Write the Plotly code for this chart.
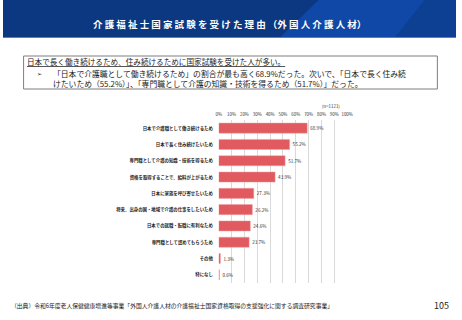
import plotly.graph_objects as go

categories = [
    "日本で介護職として働き続けるため",
    "日本で長く住み続けたいため",
    "専門職として介護の知識・技術を得るため",
    "資格を取得することで、給料が上がるため",
    "日本に家族を呼び寄せたいため",
    "将来、出身の国・地域で介護の仕事をしたいため",
    "日本での就職・転職に有利なため",
    "専門職として認めてもらうため",
    "その他",
    "特になし",
]
values = [68.9, 55.2, 51.7, 43.9, 27.3, 26.2, 24.6, 23.7, 1.3, 0.6]
tick_vals = [0, 10, 20, 30, 40, 50, 60, 70, 80, 90, 100]
tick_text = [f"{v}%" for v in tick_vals]

W, H = 462, 320
FONT = "Noto Sans CJK JP"

def px(x):
    return x / W

def py(y):
    return 1 - y / H

fig = go.Figure()
fig.add_trace(go.Bar(
    x=values, y=[f"<b>{c}</b>" for c in categories], orientation="h",
    marker=dict(color="#e05a60", line=dict(color="#f0a0a3", width=0.5)),
    text=[f"{v:.1f}%" for v in values], textposition="outside",
    textfont=dict(size=4.6, color="#333333", family=FONT),
    cliponaxis=False,
))

fig.update_layout(
    width=W, height=H, margin=dict(l=0, r=0, t=0, b=0),
    paper_bgcolor="white", plot_bgcolor="white",
    showlegend=False, bargap=0.38,
    font=dict(family=FONT),
    xaxis=dict(domain=[px(220), px(351)], range=[0, 100], side="top",
               tickvals=tick_vals, ticktext=tick_text, tickangle=0,
               tickfont=dict(size=4.4, color="#333333", family=FONT),
               showgrid=True, gridcolor="#d9d9d9", gridwidth=1,
               zeroline=False, showline=False, ticks="", ticklabelstandoff=2),
    yaxis=dict(domain=[py(283), py(120)], autorange="reversed",
               tickfont=dict(size=4.4, color="#222222", family=FONT),
               ticks="outside", ticklen=4, tickcolor="rgba(0,0,0,0)",
               showgrid=False, zeroline=False, showline=False),
)

shapes = []
# header band
shapes.append(dict(type="rect", xref="paper", yref="paper", x0=0, x1=1, y0=py(37), y1=1,
                   fillcolor="#0b3880", line=dict(width=0), layer="below"))
shapes.append(dict(type="path", xref="paper", yref="paper",
                   path=f"M {px(283)} {py(37)} L {px(322)} {py(0)} L {px(462)} {py(0)} L {px(462)} {py(37)} Z",
                   fillcolor="#0f48a6", line=dict(width=0), layer="below"))
shapes.append(dict(type="path", xref="paper", yref="paper",
                   path=f"M {px(400)} {py(37)} L {px(430)} {py(0)} L {px(462)} {py(0)} L {px(462)} {py(37)} Z",
                   fillcolor="#0d3f92", line=dict(width=0), layer="below"))
shapes.append(dict(type="line", xref="paper", yref="paper", x0=0, x1=1, y0=py(37.5), y1=py(37.5),
                   line=dict(color="#5a7fb5", width=1.2)))
# summary box
shapes.append(dict(type="rect", xref="paper", yref="paper", x0=px(21), x1=px(443), y0=py(89), y1=py(56),
                   fillcolor="rgba(0,0,0,0)", line=dict(color="#7f7f7f", width=1)))
fig.update_layout(shapes=shapes)

ann = []
ann.append(dict(text="<b>介 護 福 祉 士 国 家 試 験 を 受 け た 理 由 （外 国 人 介 護 人 材）</b>", x=px(231), y=py(24.5),
                xref="paper", yref="paper", showarrow=False, xanchor="center", yanchor="middle",
                font=dict(size=9.5, color="white", family=FONT)))
ann.append(dict(text="<u>日本で長く働き続けるため、住み続けるために国家試験を受けた人が多い。</u>",
                x=px(22), y=py(61), xref="paper", yref="paper", showarrow=False,
                xanchor="left", yanchor="middle", font=dict(size=7.6, color="#222222", family=FONT)))
ann.append(dict(text="➢", x=px(33), y=py(74), xref="paper", yref="paper", showarrow=False,
                xanchor="left", yanchor="middle", font=dict(size=6, color="#222222", family=FONT)))
ann.append(dict(text="「日本で介護職として働き続けるため」の割合が最も高く68.9%だった。次いで、「日本で長く住み続<br>けたいため（55.2%）」、「専門職として介護の知識・技術を得るため（51.7%）」だった。",
                x=px(49), y=py(78), xref="paper", yref="paper", showarrow=False, align="left",
                xanchor="left", yanchor="middle", font=dict(size=7.8, color="#222222", family=FONT)))
ann.append(dict(text="(n=1121)", x=px(335), y=py(106), xref="paper", yref="paper", showarrow=False,
                xanchor="center", yanchor="middle", font=dict(size=4.4, color="#333333", family=FONT)))
ann.append(dict(text="（出典）令和6年度老人保健健康増進等事業「外国人介護人材の介護福祉士国家資格取得の支援強化に関する調査研究事業」",
                x=px(6), y=py(305), xref="paper", yref="paper", showarrow=False,
                xanchor="left", yanchor="middle", font=dict(size=5.8, color="#222222", family=FONT)))
ann.append(dict(text="105", x=px(457), y=py(305), xref="paper", yref="paper", showarrow=False,
                xanchor="right", yanchor="middle", font=dict(size=9, color="#222222", family=FONT)))
fig.update_layout(annotations=ann)

fig.write_html("out.html")
